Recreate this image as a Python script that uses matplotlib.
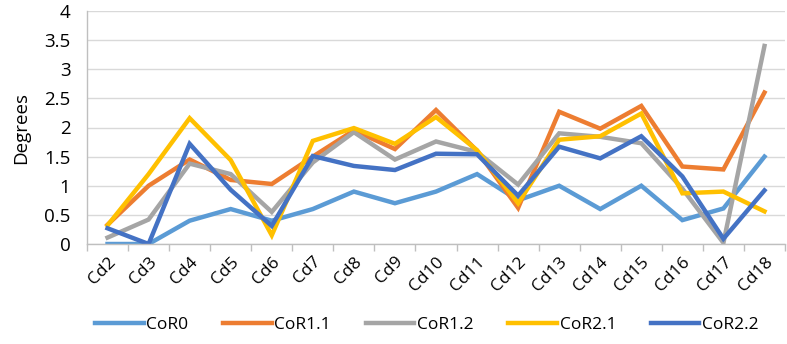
import matplotlib
matplotlib.use("Agg")
import matplotlib.pyplot as plt
from matplotlib.ticker import FixedLocator, FuncFormatter

categories = ["Cd2", "Cd3", "Cd4", "Cd5", "Cd6", "Cd7", "Cd8", "Cd9", "Cd10",
              "Cd11", "Cd12", "Cd13", "Cd14", "Cd15", "Cd16", "Cd17", "Cd18"]
cor0 = [0.0, 0.0, 0.4, 0.6, 0.4, 0.6, 0.9, 0.7, 0.9, 1.2, 0.75, 1.0, 0.6, 1.0, 0.41, 0.61, 1.5]
cor11 = [0.33, 1.0, 1.45, 1.1, 1.03, 1.5, 1.95, 1.63, 2.3, 1.6, 0.62, 2.27, 1.98, 2.37, 1.33, 1.28, 2.6]
cor12 = [0.11, 0.42, 1.38, 1.2, 0.55, 1.4, 1.92, 1.45, 1.76, 1.58, 1.02, 1.9, 1.84, 1.73, 0.95, 0.02, 3.4]
cor21 = [0.32, 1.2, 2.16, 1.44, 0.15, 1.77, 1.99, 1.72, 2.18, 1.61, 0.7, 1.79, 1.85, 2.24, 0.87, 0.9, 0.56]
cor22 = [0.27, 0.0, 1.72, 0.93, 0.31, 1.51, 1.34, 1.27, 1.55, 1.54, 0.83, 1.67, 1.47, 1.85, 1.16, 0.09, 0.92]

series = [("CoR0", cor0, "#5B9BD5"), ("CoR1.1", cor11, "#ED7D31"),
          ("CoR1.2", cor12, "#A5A5A5"), ("CoR2.1", cor21, "#FFC000"),
          ("CoR2.2", cor22, "#4472C4")]
yticks = [0, 0.5, 1, 1.5, 2, 2.5, 3, 3.5, 4]

plt.rcParams['font.family'] = ['Open Sans', 'DejaVu Sans']

fig = plt.figure(figsize=(7.87, 3.44), dpi=100)
ax = fig.add_axes([87/787, 1-244/344, 698/787, 233/344])

x = list(range(len(categories)))
for name, vals, col in series:
    ax.plot(x, vals, color=col, lw=3.2, label=name, solid_joinstyle='miter')

ax.set_xlim(-0.5, len(categories)-0.5)
ax.set_ylim(0, 4)
ax.yaxis.set_major_locator(FixedLocator(yticks))
ax.yaxis.set_major_formatter(FuncFormatter(lambda v, p: f"{v:g}"))
ax.grid(axis='y', color='#d9d9d9', lw=1)
ax.set_axisbelow(True)

ax.set_xticks(x)
ax.set_xticklabels(categories, rotation=45, ha='right', rotation_mode='anchor', fontsize=12.5)
ax.tick_params(axis='x', which='major', length=0, pad=7)
ax.set_xticks([i - 0.5 for i in range(len(categories)+1)], minor=True)
ax.tick_params(axis='x', which='minor', length=5, color='#bfbfbf', width=1)
ax.tick_params(axis='y', length=0, labelsize=13.5, pad=12)

for s in ['top', 'right']:
    ax.spines[s].set_visible(False)
for s in ['left', 'bottom']:
    ax.spines[s].set_color('#bfbfbf')
    ax.spines[s].set_linewidth(1)

ax.set_ylabel("Degrees", fontsize=13.5, labelpad=10)

ax.legend(loc='center', bbox_to_anchor=(0.487, -0.348), ncol=5, frameon=False,
          fontsize=12.5, handlelength=2.8, handletextpad=0.15, columnspacing=2.0,
          borderaxespad=0)

fig.savefig("out.png", dpi=100)
